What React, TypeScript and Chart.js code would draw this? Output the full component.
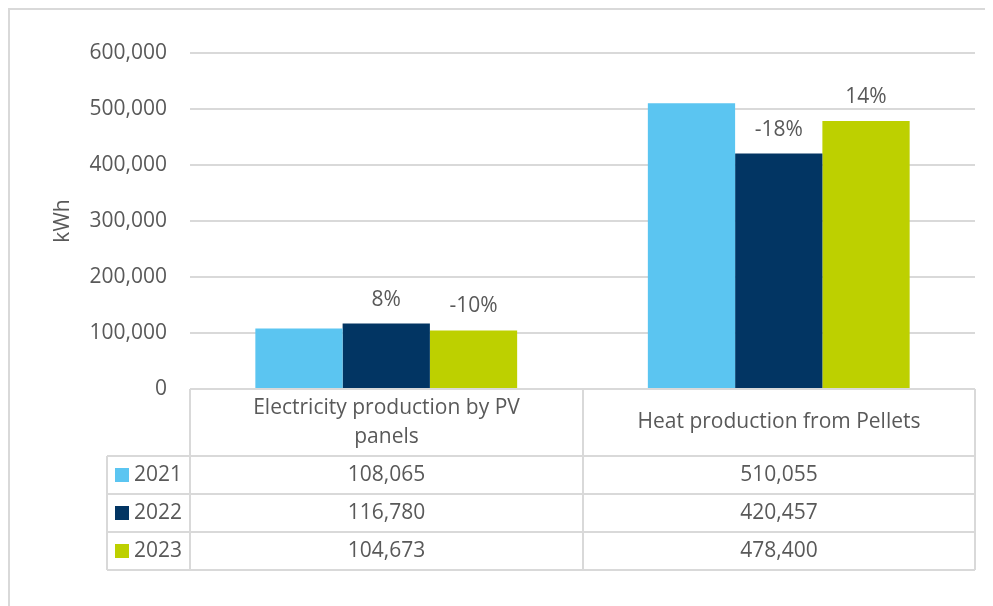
import React, { useEffect, useRef } from "react";
import { Chart, registerables } from "chart.js";

Chart.register(...registerables);

// Chart data
const categories: string[][] = [["Electricity production by PV", "panels"], ["Heat production from Pellets"]];
const years = ["2021", "2022", "2023"];
const values2021 = [108065, 510055];
const values2022 = [116780, 420457];
const values2023 = [104673, 478400];
const yMax = 600000;
const yStep = 100000;
const yTitle = "kWh";

const seriesColors = ["#5BC5F1", "#023563", "#BDD000"];
const TEXT = "#595959";
const LINE = "#d9d9d9";
const FONT = "'Open Sans', 'Liberation Sans', sans-serif";
const FONT_SIZE = 21;

const fmt = (v: number) => v.toLocaleString("en-US");

// Year-over-year change shown above the 2022 and 2023 bars
const changeLabels = {
  id: "changeLabels",
  afterDatasetsDraw(chart: any) {
    const ctx = chart.ctx;
    ctx.save();
    ctx.font = `${FONT_SIZE}px ${FONT}`;
    ctx.fillStyle = TEXT;
    ctx.textAlign = "center";
    ctx.textBaseline = "middle";
    for (let d = 1; d < chart.data.datasets.length; d++) {
      const cur = chart.data.datasets[d].data as number[];
      const prev = chart.data.datasets[d - 1].data as number[];
      const meta = chart.getDatasetMeta(d);
      meta.data.forEach((bar: any, i: number) => {
        const pct = Math.round((cur[i] / prev[i] - 1) * 100);
        ctx.fillText(`${pct}%`, bar.x, bar.y - 24);
      });
    }
    ctx.restore();
  },
};

// Data table under the plot: category header row, then one row per year
const dataTable = {
  id: "dataTable",
  afterDraw(chart: any) {
    const ctx = chart.ctx;
    const area = chart.chartArea;
    const n = categories.length;
    const colW = (area.right - area.left) / n;
    const top = Math.round(area.bottom);
    const headerH = 67;
    const rowH = 38;
    const legendLeft = 97;
    const rowsTop = top + headerH;
    const bottom = rowsTop + rowH * years.length;
    const edges = Array.from({ length: n + 1 }, (_, i) => Math.round(area.left + i * colW));

    ctx.save();
    ctx.strokeStyle = LINE;
    ctx.lineWidth = 2;
    ctx.beginPath();
    // header top line
    ctx.moveTo(edges[0], top);
    ctx.lineTo(edges[n], top);
    // row lines
    for (let r = 0; r <= years.length; r++) {
      const y = rowsTop + r * rowH;
      ctx.moveTo(legendLeft, y);
      ctx.lineTo(edges[n], y);
    }
    // verticals
    edges.forEach((x) => {
      ctx.moveTo(x, top);
      ctx.lineTo(x, bottom);
    });
    ctx.moveTo(legendLeft, rowsTop);
    ctx.lineTo(legendLeft, bottom);
    ctx.stroke();

    ctx.font = `${FONT_SIZE}px ${FONT}`;
    ctx.fillStyle = TEXT;
    ctx.textAlign = "center";
    ctx.textBaseline = "middle";
    // header
    categories.forEach((lines, c) => {
      const cx = (edges[c] + edges[c + 1]) / 2;
      const lh = 29;
      const y0 = top + headerH / 2 - ((lines.length - 1) * lh) / 2;
      lines.forEach((ln, k) => ctx.fillText(ln, cx, y0 + k * lh));
    });
    // rows
    chart.data.datasets.forEach((ds: any, r: number) => {
      const cy = rowsTop + r * rowH + rowH / 2;
      ctx.fillStyle = ds.backgroundColor;
      ctx.fillRect(legendLeft + 8, cy - 7, 14, 14);
      ctx.fillStyle = TEXT;
      ctx.textAlign = "left";
      ctx.fillText(ds.label, legendLeft + 27, cy);
      ctx.textAlign = "center";
      (ds.data as number[]).forEach((v, c) => {
        ctx.fillText(fmt(v), (edges[c] + edges[c + 1]) / 2, cy);
      });
    });
    ctx.restore();
  },
};

export default function App() {
  const ref = useRef<HTMLCanvasElement | null>(null);

  useEffect(() => {
    if (!ref.current) return;
    const seriesValues = [values2021, values2022, values2023];
    const chart = new Chart(ref.current, {
      type: "bar",
      data: {
        labels: categories,
        datasets: years.map((y, i) => ({
          label: y,
          data: seriesValues[i],
          backgroundColor: seriesColors[i],
          borderWidth: 0,
          categoryPercentage: 0.667,
          barPercentage: 1,
        })),
      },
      options: {
        responsive: false,
        animation: false,
        layout: { padding: { left: 36, top: 43, right: 18, bottom: 217 } },
        plugins: {
          legend: { display: false },
          tooltip: { enabled: false },
        },
        scales: {
          x: { display: false },
          y: {
            min: 0,
            max: yMax,
            border: { display: false },
            grid: { color: LINE, lineWidth: 2, drawTicks: false },
            ticks: {
              stepSize: yStep,
              padding: 23,
              color: TEXT,
              font: { family: FONT, size: FONT_SIZE },
              callback: (v: any) => fmt(Number(v)),
            },
            title: {
              display: true,
              text: yTitle,
              color: TEXT,
              font: { family: FONT, size: FONT_SIZE },
            },
            afterFit: (s: any) => {
              s.width = 144;
            },
          },
        },
      },
      plugins: [changeLabels, dataTable],
    });
    return () => chart.destroy();
  }, []);

  return (
    <div
      style={{
        width: 985,
        height: 598,
        boxSizing: "border-box",
        borderTop: `2px solid ${LINE}`,
        borderLeft: `2px solid ${LINE}`,
        background: "#fff",
      }}
    >
      <canvas ref={ref} width={983} height={596} style={{ display: "block" }} />
    </div>
  );
}
